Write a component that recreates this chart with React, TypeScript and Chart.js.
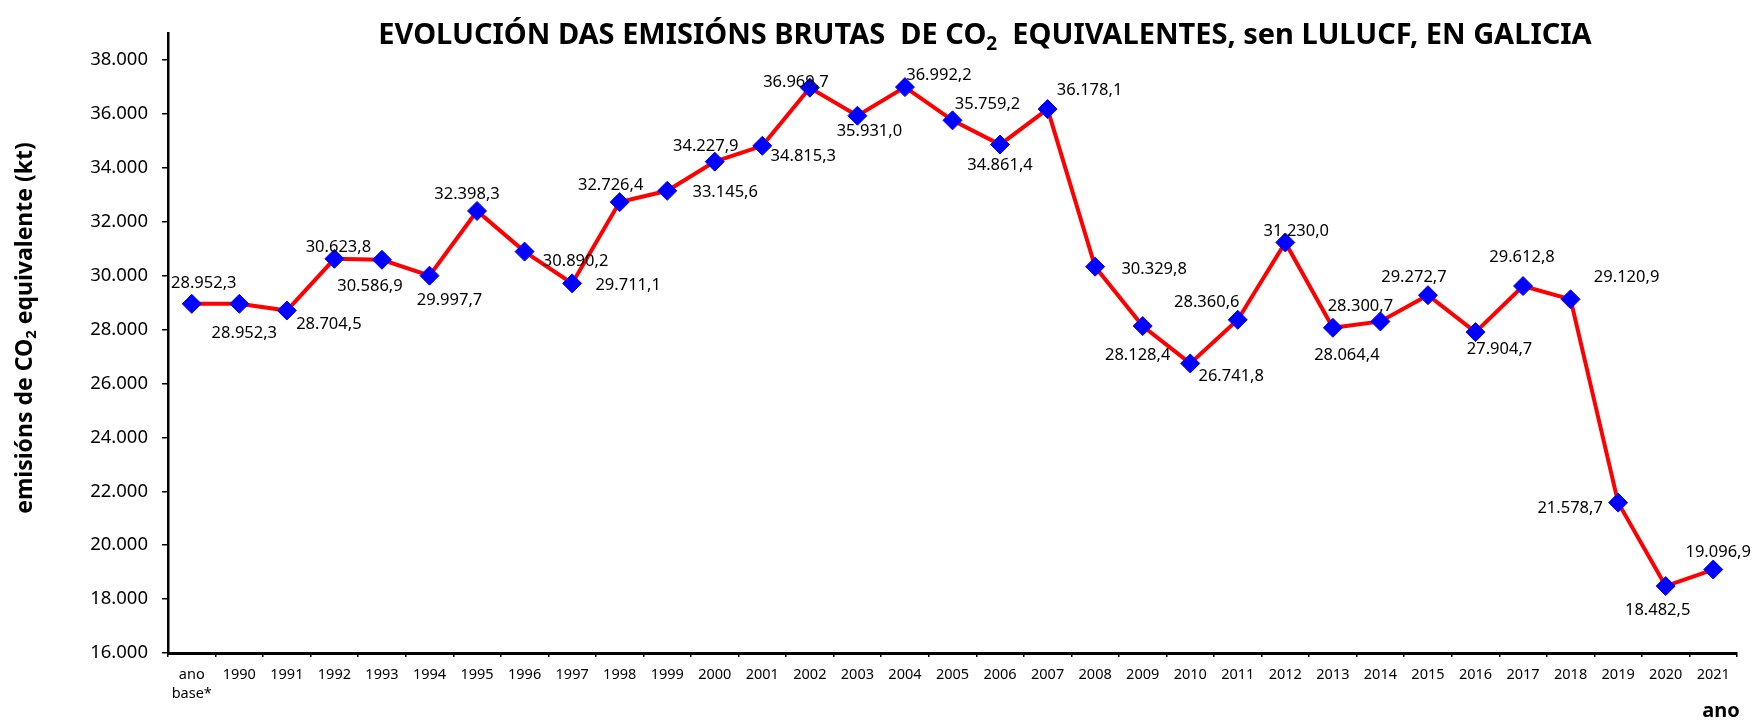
import React, { useEffect, useRef } from 'react';
import { Chart, registerables } from 'chart.js';

Chart.register(...registerables);

// ---- data ----
const categories: (string | string[])[] = [
  ['ano', 'base*'], '1990', '1991', '1992', '1993', '1994', '1995', '1996', '1997', '1998', '1999',
  '2000', '2001', '2002', '2003', '2004', '2005', '2006', '2007', '2008', '2009', '2010',
  '2011', '2012', '2013', '2014', '2015', '2016', '2017', '2018', '2019', '2020', '2021',
];

const emissions: number[] = [
  28952.3, 28952.3, 28704.5, 30623.8, 30586.9, 29997.7, 32398.3, 30890.2, 29711.1, 32726.4, 33145.6,
  34227.9, 34815.3, 36969.7, 35931.0, 36992.2, 35759.2, 34861.4, 36178.1, 30329.8, 28128.4, 26741.8,
  28360.6, 31230.0, 28064.4, 28300.7, 29272.7, 27904.7, 29612.8, 29120.9, 21578.7, 18482.5, 19096.9,
];

const yMin = 16000;
const yMax = 39000;
const yTickValues: number[] = [16000, 18000, 20000, 22000, 24000, 26000, 28000, 30000, 32000, 34000, 36000, 38000];
const yTickLabels: string[] = ['16.000', '18.000', '20.000', '22.000', '24.000', '26.000', '28.000', '30.000', '32.000', '34.000', '36.000', '38.000'];

const titleParts: [string, boolean][] = [
  ['EVOLUCIÓN DAS EMISIÓNS BRUTAS  DE CO', false],
  ['2', true],
  ['  EQUIVALENTES, sen LULUCF, EN GALICIA', false],
];
const yTitleParts: [string, boolean][] = [
  ['emisións de CO', false],
  ['2', true],
  [' equivalente (kt)', false],
];
const xTitle = 'ano';

// label placement (style): offset of each value label from its marker, in px
const labelOffsets: [number, number][] = [
  [12, -21], [5, 29], [42, 14], [4, -11], [-12, 27], [20, 25], [-10, -17], [51, 10], [56, 2], [-9, -17],
  [58, 1], [-9, -15], [41, 10], [-14, -5], [12, 16], [34, -12], [35, -16], [0, 21], [42, -19], [59, 3],
  [-5, 29], [41, 13], [-31, -18], [11, -11], [14, 28], [-20, -15], [-14, -18], [24, 17], [-1, -29], [56, -22],
  [-48, 6], [-8, 24], [5, -17],
];

const FONT = "'Noto Sans', sans-serif";

const fmt = (v: number): string => {
  const [i, d] = v.toFixed(1).split('.');
  return i.replace(/\B(?=(\d{3})+(?!\d))/g, '.') + ',' + d;
};

function drawParts(ctx: CanvasRenderingContext2D, parts: [string, boolean][], size: number, cx: number, cy: number) {
  const mainFont = `bold ${size}px ${FONT}`;
  const subFont = `bold ${Math.round(size * 0.65)}px ${FONT}`;
  let total = 0;
  const widths = parts.map(([t, sub]) => {
    ctx.font = sub ? subFont : mainFont;
    const w = ctx.measureText(t).width;
    total += w;
    return w;
  });
  let x = cx - total / 2;
  ctx.textAlign = 'left';
  ctx.textBaseline = 'middle';
  parts.forEach(([t, sub], i) => {
    ctx.font = sub ? subFont : mainFont;
    ctx.fillText(t, x, sub ? cy + size * 0.3 : cy);
    x += widths[i];
  });
}

const decorPlugin = {
  id: 'decor',
  afterDatasetsDraw(chart: any) {
    const ctx: CanvasRenderingContext2D = chart.ctx;
    const meta = chart.getDatasetMeta(0);
    ctx.save();
    ctx.fillStyle = '#000';
    ctx.font = `16.5px ${FONT}`;
    ctx.textAlign = 'center';
    ctx.textBaseline = 'middle';
    meta.data.forEach((pt: any, i: number) => {
      const [dx, dy] = labelOffsets[i] || [0, -20];
      ctx.fillText(fmt(emissions[i]), pt.x + dx, pt.y + dy);
    });

    // chart title
    drawParts(ctx, titleParts, 29, 985, 36);

    // y-axis title
    ctx.save();
    ctx.translate(25, 328);
    ctx.rotate(-Math.PI / 2);
    drawParts(ctx, yTitleParts, 23, 0, 0);
    ctx.restore();

    // x-axis title
    ctx.font = `bold 20px ${FONT}`;
    ctx.textAlign = 'center';
    ctx.textBaseline = 'middle';
    ctx.fillText(xTitle, 1721, 711);
    ctx.restore();
  },
};

export default function App() {
  const ref = useRef<HTMLCanvasElement | null>(null);

  useEffect(() => {
    if (!ref.current) return;
    const chart = new Chart(ref.current, {
      type: 'line',
      data: {
        labels: categories,
        datasets: [
          {
            data: emissions,
            borderColor: '#FF0000',
            borderWidth: 4,
            tension: 0,
            pointStyle: 'rectRot',
            pointRadius: 9.5,
            pointBackgroundColor: '#0000FF',
            pointBorderColor: '#0000FF',
            pointBorderWidth: 1,
            clip: false as any,
          },
        ],
      },
      options: {
        animation: false,
        responsive: false,
        devicePixelRatio: 1,
        layout: { padding: { top: 33, right: 18, left: 0, bottom: 0 } },
        plugins: {
          legend: { display: false },
          title: { display: false },
          tooltip: { enabled: false },
        },
        scales: {
          x: {
            type: 'category',
            offset: true,
            grid: {
              offset: true,
              drawOnChartArea: false,
              drawTicks: true,
              tickLength: 4,
              color: '#000',
              lineWidth: 1.5,
            },
            border: { display: true, color: '#000', width: 3 },
            ticks: {
              color: '#000',
              font: { family: FONT, size: 14.5, lineHeight: 1.35 },
              maxRotation: 0,
              minRotation: 0,
              autoSkip: false,
              padding: 8,
            },
            afterFit: (scale: any) => {
              scale.height = 68;
            },
          },
          y: {
            type: 'linear',
            min: yMin,
            max: yMax,
            grid: {
              drawOnChartArea: false,
              drawTicks: true,
              tickLength: 6,
              color: '#000',
              lineWidth: 1.5,
            },
            border: { display: true, color: '#000', width: 2.5 },
            ticks: {
              autoSkip: false,
              color: '#000',
              font: { family: FONT, size: 18.5 },
              padding: 14,
              callback: (v: any) => {
                const k = yTickValues.indexOf(Number(v));
                return k >= 0 ? yTickLabels[k] : '';
              },
            },
            afterBuildTicks: (scale: any) => {
              scale.ticks = yTickValues.map((v) => ({ value: v }));
            },
            afterFit: (scale: any) => {
              scale.width = 168;
            },
          },
        },
      },
      plugins: [decorPlugin],
    });
    return () => chart.destroy();
  }, []);

  return (
    <div style={{ position: 'fixed', left: 0, top: 0, width: 1755, height: 721, background: '#fff' }}>
      <canvas ref={ref} width={1755} height={721} style={{ display: 'block' }} />
    </div>
  );
}
